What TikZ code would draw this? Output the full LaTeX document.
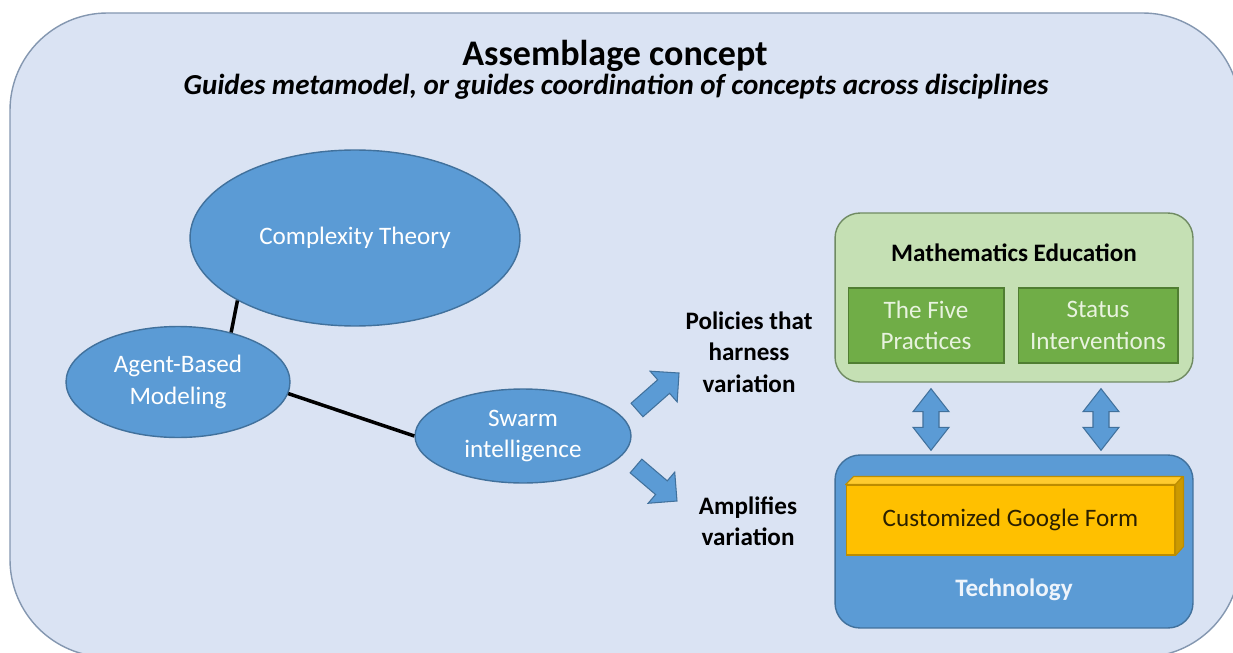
\documentclass[tikz,border=0pt]{standalone}
\usepackage{fontspec}
\setmainfont{Carlito}
\usetikzlibrary{shapes.geometric,calc}
\definecolor{bgfill}{HTML}{DAE3F3}
\definecolor{bgdraw}{HTML}{8497B0}
\definecolor{eblue}{HTML}{5B9BD5}
\definecolor{eborder}{HTML}{41719C}
\definecolor{lgreen}{HTML}{C5E0B4}
\definecolor{lgborder}{HTML}{6F8A62}
\definecolor{dgreen}{HTML}{70AD47}
\definecolor{dgborder}{HTML}{507E32}
\definecolor{gold}{HTML}{FFC000}
\definecolor{goldtop}{HTML}{FFCB2E}
\definecolor{goldside}{HTML}{CC9A00}
\definecolor{goldborder}{HTML}{BC8C00}
\definecolor{goldtext}{HTML}{2B2000}
\definecolor{paletext}{HTML}{EEF4FB}
\definecolor{greentext}{HTML}{E8F3DF}
\newcommand{\bodyf}{\fontsize{14.3}{17.9}\selectfont}
\newcommand{\blockarrow}[5]{%
  \coordinate (#1-#2-h) at ($(#2)!#5!(#1)$);
  \path[barrow] ($(#1)!#3!90:(#2)$) -- ($(#1-#2-h)!#3!90:(#2)$) -- ($(#1-#2-h)!#4!90:(#2)$) -- (#2) -- ($(#1-#2-h)!#4!-90:(#2)$) -- ($(#1-#2-h)!#3!-90:(#2)$) -- ($(#1)!#3!-90:(#2)$) -- cycle;}
\newcommand{\dblarrow}[5]{%
  \coordinate (#1-#2-p) at ($(#1)!#5!(#2)$);
  \coordinate (#1-#2-q) at ($(#2)!#5!(#1)$);
  \path[barrow] (#1) -- ($(#1-#2-p)!#4!90:(#2)$) -- ($(#1-#2-p)!#3!90:(#2)$) -- ($(#1-#2-q)!#3!90:(#2)$) -- ($(#1-#2-q)!#4!90:(#2)$) -- (#2) -- ($(#1-#2-q)!#4!-90:(#2)$) -- ($(#1-#2-q)!#3!-90:(#2)$) -- ($(#1-#2-p)!#3!-90:(#2)$) -- ($(#1-#2-p)!#4!-90:(#2)$) -- cycle;}
\begin{document}
\begin{tikzpicture}[x=0.02cm,y=-0.02cm,
  ell/.style={ellipse, fill=eblue, draw=eborder, line width=0.8pt, text=white, font=\bodyf, align=center, inner sep=0pt},
  conn/.style={line width=2pt, black},
  barrow/.style={fill=eblue, draw=eborder, line width=0.6pt, line join=miter},
  lbl/.style={font=\bodyf\bfseries, align=center, text=black},
  gbox/.style={rectangle, fill=dgreen, draw=dgborder, line width=0.6pt, text=greentext, font=\bodyf, align=center, inner sep=0pt},
  panel/.style={rectangle, rounded corners=0.5cm, line width=0.8pt, inner sep=0pt}]
\useasboundingbox (0,0) rectangle (1233,652);
\clip (0,0) rectangle (1233,652);
\path[fill=bgfill, draw=bgdraw, line width=0.8pt, rounded corners=1.95cm] (10,13) rectangle (1240,657);
\node[font=\fontsize{20.5}{24}\selectfont\bfseries, anchor=base] (title) at (615,66) {Assemblage concept};
\node[font=\fontsize{16.5}{20}\selectfont\bfseries\itshape, anchor=base] (sub) at (616,94) {Guides metamodel, or guides coordination of concepts across disciplines};
\node[ell, minimum width=6.6cm, minimum height=3.52cm] (ct) at (355,238) {Complexity Theory};
\node[ell, minimum width=4.48cm, minimum height=2.22cm] (abm) at (178,382) {Agent-Based\\Modeling};
\node[ell, minimum width=4.32cm, minimum height=1.88cm] (sw) at (523,436) {Swarm\\intelligence};
\draw[conn] (ct.208) -- (abm.43);
\draw[conn] (abm.-6) -- (sw.180);
\coordinate (u1) at (637,410);
\coordinate (u2) at (679,373);
\coordinate (d1) at (636,466);
\coordinate (d2) at (677,501);
\blockarrow{u1}{u2}{0.18cm}{0.41cm}{0.41cm}
\blockarrow{d1}{d2}{0.18cm}{0.41cm}{0.41cm}
\node[lbl] (pol) at (749,352) {Policies that\\harness\\variation};
\node[lbl] (amp) at (748,521) {Amplifies\\variation};
\node[panel, draw=lgborder, fill=lgreen, minimum width=7.16cm, minimum height=3.38cm] (me) at (1014,297.5) {};
\node[lbl] (met) at (1014,253) {Mathematics Education};
\node[gbox, minimum width=3.12cm, minimum height=1.5cm] (fp) at (926,325.5) {The Five\\Practices};
\node[gbox, minimum width=3.2cm, minimum height=1.5cm] (si) at (1098,325.5) {Status\\Interventions};
\node[panel, draw=eborder, fill=eblue, minimum width=7.16cm, minimum height=3.46cm] (tech) at (1014,541.5) {};
\node[font=\bodyf\bfseries, text=paletext] (techl) at (1014,590) {Technology};
\node[rectangle, draw=goldborder, fill=gold, line width=0.6pt, minimum width=6.58cm, minimum height=1.4cm, inner sep=0pt, font=\bodyf, text=goldtext] (gf) at (1010.5,520) {Customized Google Form};
\path[fill=goldtop, draw=goldborder, line width=0.6pt, line join=round] (gf.north west) -- ++(8,-8) -- ++(329,0) -- (gf.north east) -- cycle;
\path[fill=goldside, draw=goldborder, line width=0.6pt, line join=round] (gf.north east) -- ++(8,-8) -- ++(0,70) -- (gf.south east) -- cycle;
\coordinate (a1) at ($(me.south -| fp.south)+(5,6)$);
\coordinate (a2) at ($(tech.north -| fp.south)+(5,-4)$);
\coordinate (b1) at ($(me.south -| si.south)+(3,6)$);
\coordinate (b2) at ($(tech.north -| si.south)+(3,-4)$);
\dblarrow{a1}{a2}{0.16cm}{0.36cm}{0.46cm}
\dblarrow{b1}{b2}{0.16cm}{0.36cm}{0.46cm}
\end{tikzpicture}
\end{document}
